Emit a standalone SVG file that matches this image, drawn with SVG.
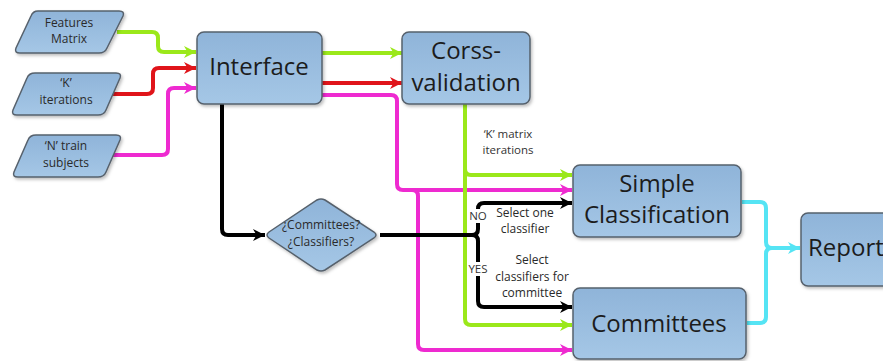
<svg xmlns="http://www.w3.org/2000/svg" width="883" height="361" viewBox="0 0 883 361">
<defs>
<linearGradient id="bf" x1="0" y1="0" x2="0" y2="1">
<stop offset="0" stop-color="#8fb4d9"/>
<stop offset="1" stop-color="#a5c7e6"/>
</linearGradient>
<filter id="sh" x="-10%" y="-10%" width="130%" height="130%">
<feDropShadow dx="1.5" dy="2" stdDeviation="1.5" flood-color="#000" flood-opacity="0.25"/>
</filter>
<marker id="aG" markerUnits="userSpaceOnUse" markerWidth="14" markerHeight="14" refX="12" refY="7" orient="auto"><path d="M0,1 L12,7 L0,13 L3.5,7 Z" fill="#9be81a"/></marker>
<marker id="aR" markerUnits="userSpaceOnUse" markerWidth="14" markerHeight="14" refX="12" refY="7" orient="auto"><path d="M0,1 L12,7 L0,13 L3.5,7 Z" fill="#e0141a"/></marker>
<marker id="aM" markerUnits="userSpaceOnUse" markerWidth="14" markerHeight="14" refX="12" refY="7" orient="auto"><path d="M0,1 L12,7 L0,13 L3.5,7 Z" fill="#ee2ad0"/></marker>
<marker id="aK" markerUnits="userSpaceOnUse" markerWidth="14" markerHeight="14" refX="12" refY="7" orient="auto"><path d="M0,1 L12,7 L0,13 L3.5,7 Z" fill="#000"/></marker>
<marker id="aC" markerUnits="userSpaceOnUse" markerWidth="14" markerHeight="14" refX="12" refY="7" orient="auto"><path d="M0,1 L12,7 L0,13 L3.5,7 Z" fill="#55e4f4"/></marker>
</defs>
<style>
.box{fill:url(#bf);stroke:#56616c;stroke-width:1.5;filter:url(#sh)}
.big{font-family:"Open Sans","Noto Sans",sans-serif;font-size:24px;fill:#1c1c1c;text-anchor:middle}
.sm{font-family:"Open Sans","Noto Sans",sans-serif;font-size:12px;fill:#2a2a2a;text-anchor:middle}
.lb{font-family:"Open Sans","Noto Sans",sans-serif;font-size:11.5px;fill:#333;text-anchor:middle}
.dm{font-family:"Open Sans","Noto Sans",sans-serif;font-size:12px;fill:#2a2a2a;text-anchor:middle}
.c{fill:none;stroke-width:4;stroke-linejoin:round}
.g{stroke:#9be81a}.r{stroke:#e0141a}.m{stroke:#ee2ad0}.k{stroke:#000}.cy{stroke:#55e4f4}
</style>

<g id="connectors">
<path class="c g" d="M117,32 H152 Q158,32 158,38 V46 Q158,52 164,52 H196" marker-end="url(#aG)"/>
<path class="c r" d="M112,94 H147 Q153,94 153,88 V74 Q153,68 159,68 H196" marker-end="url(#aR)"/>
<path class="c m" d="M112,155 H162 Q168,155 168,149 V94 Q168,88 174,88 H196" marker-end="url(#aM)"/>
<path class="c g" d="M322,53 H402" marker-end="url(#aG)"/>
<path class="c r" d="M322,83 H402" marker-end="url(#aR)"/>
<path class="c m" d="M322,95 H391 Q397,95 397,101 V184 Q397,190 403,190 H572" marker-end="url(#aM)"/>
<path class="c m" d="M412,190 Q418,190 418,196 V344 Q418,350 424,350 H572" marker-end="url(#aM)"/>
<path class="c g" d="M465,104 V319 Q465,325 471,325 H572" marker-end="url(#aG)"/>
<path class="c g" d="M465,169 Q465,175 471,175 H572" marker-end="url(#aG)"/>
<path class="c k" d="M222,104 V229 Q222,235 228,235 H265" marker-end="url(#aK)"/>
<path class="c k" d="M380,235 H472 Q478,235 478,229 V209 Q478,203 484,203 H572" marker-end="url(#aK)"/>
<path class="c k" d="M472,235 Q478,235 478,241 V301 Q478,307 484,307 H572" marker-end="url(#aK)"/>
<path class="c cy" d="M742,202 H760 Q766,202 766,208 V242 Q766,248 772,248 H800" marker-end="url(#aC)"/>
<path class="c cy" d="M747,323 H760 Q766,323 766,317 V254 Q766,248 772,248"/>
<rect x="468" y="209" width="20" height="14" fill="#fff"/>
<text class="lb" x="478" y="220">NO</text>
<rect x="467" y="262" width="23" height="14" fill="#fff"/>
<text class="lb" x="478" y="273">YES</text>
<text class="lb" x="508" y="138">‘K’ matrix</text>
<text class="lb" x="508" y="154">iterations</text>
<text class="sm" x="525" y="217">Select one</text>
<text class="sm" x="525" y="233">classifier</text>
<text class="sm" x="532" y="264">Select</text>
<text class="sm" x="532" y="281">classifiers for</text>
<text class="sm" x="532" y="297">committee</text>
</g>

<g id="features-matrix">
<path class="box" d="M38,11 H119 Q125,11 123,16 L107,48 Q105,53 99,53 H20 Q14,53 16,48 L31,16 Q33,11 38,11 Z"/>
<text class="sm" x="69" y="27">Features</text>
<text class="sm" x="69" y="43">Matrix</text>
</g>
<g id="k-iterations">
<path class="box" d="M35,73 H116 Q122,73 120,78 L106,110 Q104,115 98,115 H17 Q11,115 13,110 L27,78 Q29,73 35,73 Z"/>
<text class="sm" x="66" y="87">‘K’</text>
<text class="sm" x="66" y="104">iterations</text>
</g>
<g id="n-train-subjects">
<path class="box" d="M36,135 H116 Q122,135 120,140 L106,172 Q104,177 98,177 H18 Q12,177 14,172 L28,140 Q30,135 36,135 Z"/>
<text class="sm" x="66" y="150">‘N’ train</text>
<text class="sm" x="66" y="167">subjects</text>
</g>
<g id="interface">
<rect class="box" x="197" y="32" width="125" height="72" rx="7"/>
<text class="big" x="259" y="75">Interface</text>
</g>
<g id="cross-validation">
<rect class="box" x="402" y="32" width="128" height="72" rx="7"/>
<text class="big" x="466" y="59">Corss-</text>
<text class="big" x="466" y="91">validation</text>
</g>
<g id="decision">
<path class="box" d="M269,232 L317,200 Q321,198 325,200 L374,232 Q378,235 374,238 L325,270 Q321,272 317,270 L269,238 Q265,235 269,232 Z"/>
<text class="dm" x="321" y="229">¿Committees?</text>
<text class="dm" x="321" y="246">¿Classifiers?</text>
</g>
<g id="simple-classification">
<rect class="box" x="573" y="165" width="168" height="72" rx="7"/>
<text class="big" x="657" y="192">Simple</text>
<text class="big" x="657" y="223">Classification</text>
</g>
<g id="committees">
<rect class="box" x="573" y="288" width="173" height="71" rx="7"/>
<text class="big" x="659" y="332">Committees</text>
</g>
<g id="report">
<rect class="box" x="801" y="213" width="100" height="73" rx="7"/>
<text class="big" x="808" y="256" style="text-anchor:start">Report</text>
</g>
</svg>
